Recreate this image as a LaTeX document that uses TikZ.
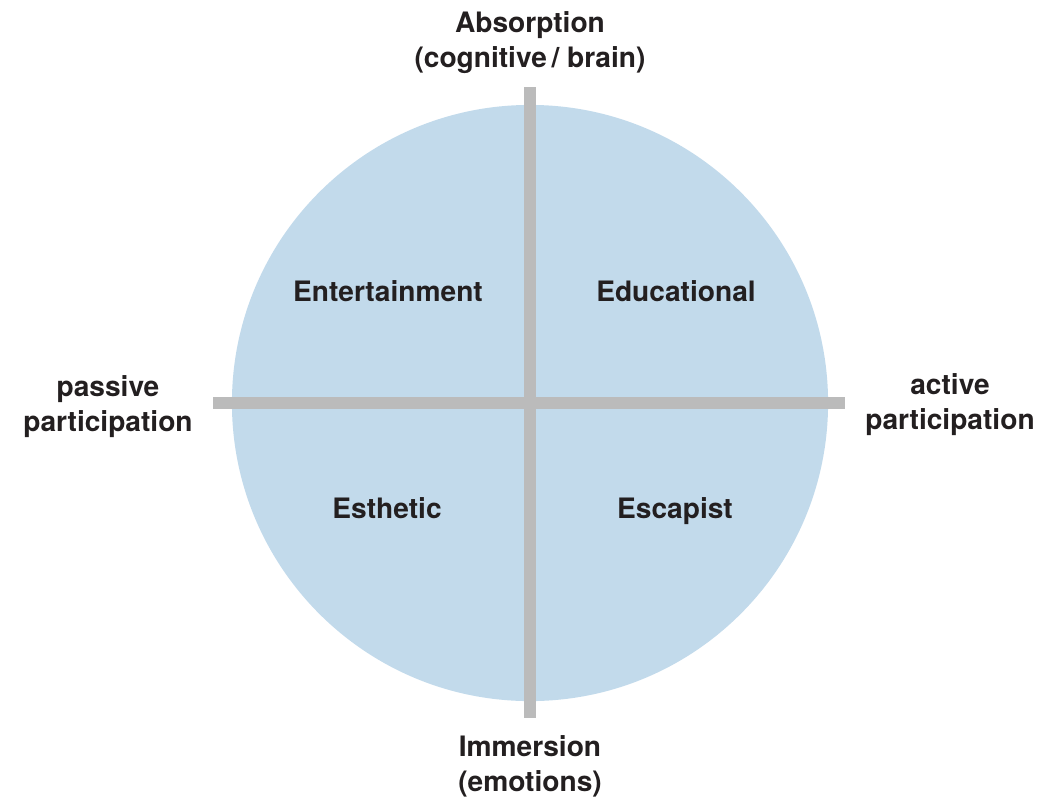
\documentclass[tikz,border=0pt]{standalone}
\usepackage{fontspec}
\setmainfont{TeX Gyre Heros}
\usetikzlibrary{positioning}
\usetikzlibrary{calc}

\definecolor{circfill}{HTML}{C2DAEB}
\definecolor{axisgray}{HTML}{BBBBBB}
\definecolor{labeltext}{HTML}{231F20}

\begin{document}
\begin{tikzpicture}[x=0.025cm, y=-0.025cm]

    \tikzset{
        lbl/.style={font=\fontsize{20}{25}\selectfont\bfseries, text=labeltext, align=center, inner sep=0pt},
        bar/.style={axisgray, line width=0.3cm}
    }

    \useasboundingbox (0,0) rectangle (1056,796);

    % Circle
    \coordinate (c) at (530,403);
    \fill[circfill] (c) circle (7.45cm);

    % Axis
    \coordinate (top) at (530,87);
    \coordinate (bot) at (530,718);
    \coordinate (lft) at (213,403);
    \coordinate (rgt) at (845,403);
    \draw[bar] (lft) -- (rgt);
    \draw[bar] (top) -- (bot);

    % Axis labels
    \node[lbl] (absorb) at (530,43) {Absorption\\(cognitive\,/ brain)};
    \node[lbl] (immers) at (530,766) {Immersion\\(emotions)};
    \node[lbl] (passive) at (108,407) {passive\\participation};
    \node[lbl] (active) at (950,405) {active\\participation};

    % Quadrants
    \node[lbl] (entert) at (388,291) {Entertainment};
    \node[lbl] (educ) at (676,291) {Educational};
    \node[lbl] (esth) at (387,508) {Esthetic};
    \node[lbl] (escap) at (675,511) {Escapist};

\end{tikzpicture}
\end{document}
